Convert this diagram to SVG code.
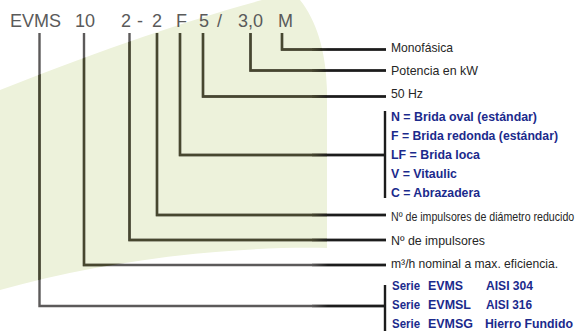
<svg xmlns="http://www.w3.org/2000/svg" width="578" height="331" viewBox="0 0 578 331">
<style>
.code{font-family:"Liberation Sans",Arial,sans-serif;font-size:18px;fill:#5a5a5a}
.lbl{font-family:"Liberation Sans",Arial,sans-serif;font-size:13.5px;fill:#262626}
.opt{font-family:"Liberation Sans",Arial,sans-serif;font-size:13px;font-weight:bold;fill:#1b2a8c}
.ln{fill:none;stroke-width:2.4;stroke-linejoin:miter;stroke-linecap:butt}
</style>
<defs>
<path id="bgShape" d="M0,90 C80,58 180,22 262,0 L300,0 C316,20 326,50 327,90 L327,248 C220,246 100,262 0,290 Z"/>
<clipPath id="greenClip"><use href="#bgShape"/></clipPath>
<linearGradient id="fadeOlive" gradientUnits="userSpaceOnUse" x1="312" y1="0" x2="328" y2="0">
<stop offset="0" stop-color="#47472f"/><stop offset="1" stop-color="#1c1c1c"/>
</linearGradient>
<linearGradient id="fadeGrey" gradientUnits="userSpaceOnUse" x1="312" y1="0" x2="328" y2="0">
<stop offset="0" stop-color="#5c5a5a"/><stop offset="1" stop-color="#1c1c1c"/>
</linearGradient>
<g id="conn">
<path d="M282,33 V49.5 H386"/>
<path d="M250.5,33 V70.5 H386"/>
<path d="M203,33 V96.5 H386"/>
<path d="M180,33 V155 H385"/>
<path d="M157,33 V215 H386"/>
<path d="M129.5,33 V240 H386"/>
<path d="M84,33 V265 H386"/>
<path d="M39.5,33 V306 H385"/>
</g>
</defs>
<use href="#bgShape" fill="#edf2db"/>
<g id="connectors">
<use href="#conn" class="ln" stroke="#5c5a5a"/>
<use href="#conn" class="ln" stroke="#47472f" clip-path="url(#greenClip)"/>
<g class="ln" stroke="url(#fadeOlive)">
<path d="M312,49.5 H386"/><path d="M312,70.5 H386"/><path d="M312,96.5 H386"/><path d="M312,155 H385"/><path d="M312,215 H386"/><path d="M312,240 H386"/>
</g>
<g class="ln" stroke="url(#fadeGrey)">
<path d="M312,265 H386"/><path d="M312,306 H385"/>
</g>
<g class="ln" stroke="#1c1c1c" stroke-width="3">
<path d="M385,111 V198"/><path d="M385,285 V331"/>
</g>
</g>
<g id="node-serie">
<text class="code" x="10" y="27">EVMS</text>
<text class="opt" x="392" y="290" textLength="28" lengthAdjust="spacingAndGlyphs">Serie</text>
<text class="opt" x="428" y="290" textLength="35" lengthAdjust="spacingAndGlyphs">EVMS</text>
<text class="opt" x="486" y="290" textLength="47" lengthAdjust="spacingAndGlyphs">AISI 304</text>
<text class="opt" x="392" y="309" textLength="28" lengthAdjust="spacingAndGlyphs">Serie</text>
<text class="opt" x="428" y="309" textLength="43" lengthAdjust="spacingAndGlyphs">EVMSL</text>
<text class="opt" x="486" y="309" textLength="46" lengthAdjust="spacingAndGlyphs">AISI 316</text>
<text class="opt" x="392" y="328" textLength="28" lengthAdjust="spacingAndGlyphs">Serie</text>
<text class="opt" x="428" y="328" textLength="45" lengthAdjust="spacingAndGlyphs">EVMSG</text>
<text class="opt" x="485" y="328" textLength="88" lengthAdjust="spacingAndGlyphs">Hierro Fundido</text>
</g>
<g id="node-caudal">
<text class="code" x="75" y="27">10</text>
<text class="lbl" x="391" y="268" textLength="167" lengthAdjust="spacingAndGlyphs">m³/h nominal a max. eficiencia.</text>
</g>
<g id="node-impulsores">
<text class="code" x="121" y="27">2</text>
<text class="lbl" x="391" y="245" textLength="94" lengthAdjust="spacingAndGlyphs">Nº de impulsores</text>
</g>
<g id="node-dash">
<text class="code" x="137" y="27">-</text>
</g>
<g id="node-reducidos">
<text class="code" x="152" y="27">2</text>
<text class="lbl" transform="translate(391,221) scale(0.817,1)" x="0" y="0" style="font-size:13px">Nº de impulsores de diámetro reducido</text>
</g>
<g id="node-brida">
<text class="code" x="176" y="27">F</text>
<text class="opt" x="391" y="121" textLength="146" lengthAdjust="spacingAndGlyphs">N = Brida oval (estándar)</text>
<text class="opt" x="391" y="140" textLength="167" lengthAdjust="spacingAndGlyphs">F = Brida redonda (estándar)</text>
<text class="opt" x="391" y="159" textLength="89" lengthAdjust="spacingAndGlyphs">LF = Brida loca</text>
<text class="opt" x="391" y="178" textLength="66" lengthAdjust="spacingAndGlyphs">V = Vitaulic</text>
<text class="opt" x="391" y="197" textLength="89" lengthAdjust="spacingAndGlyphs">C = Abrazadera</text>
</g>
<g id="node-hz">
<text class="code" x="199" y="27">5</text>
<text class="lbl" x="391" y="98" textLength="32" lengthAdjust="spacingAndGlyphs">50 Hz</text>
</g>
<g id="node-slash">
<text class="code" x="217" y="27">/</text>
</g>
<g id="node-potencia">
<text class="code" x="238" y="27">3,0</text>
<text class="lbl" x="391" y="75" textLength="87" lengthAdjust="spacingAndGlyphs">Potencia en kW</text>
</g>
<g id="node-fase">
<text class="code" x="278" y="27">M</text>
<text class="lbl" x="391" y="52" textLength="62" lengthAdjust="spacingAndGlyphs">Monofásica</text>
</g>
</svg>
